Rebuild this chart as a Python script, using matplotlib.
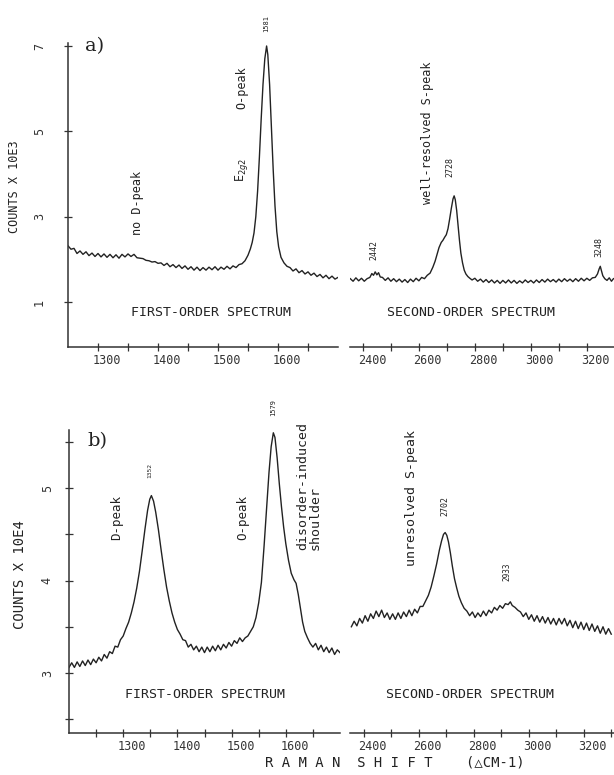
import matplotlib
matplotlib.use('Agg')
import matplotlib.pyplot as plt
import matplotlib.transforms as mtransforms

plt.rcParams['font.family'] = ['DejaVu Sans Mono', 'DejaVu Sans']

# ---- a) first-order spectrum (counts x 10E3)
top1_x = [1250, 1255, 1260, 1265, 1270, 1275, 1280, 1285, 1290, 1295,
          1300, 1305, 1310, 1315, 1320, 1325, 1330, 1335, 1340, 1345,
          1350, 1355, 1360, 1365, 1370, 1375, 1380, 1385, 1390, 1395,
          1400, 1405, 1410, 1415, 1420, 1425, 1430, 1435, 1440, 1445,
          1450, 1455, 1460, 1465, 1470, 1475, 1480, 1485, 1490, 1495,
          1500, 1505, 1510, 1515, 1520, 1525, 1530, 1535, 1540, 1545,
          1550, 1554, 1557, 1560, 1563, 1566, 1569, 1572, 1575, 1578,
          1581, 1583, 1586, 1589, 1592, 1595, 1598, 1601, 1605, 1610,
          1615, 1620, 1625, 1630, 1635, 1640, 1645, 1650, 1655, 1660,
          1665, 1670, 1675, 1680, 1685, 1690, 1695, 1700]
top1_y = [2.32, 2.24, 2.26, 2.14, 2.20, 2.12, 2.18, 2.09, 2.15, 2.07,
          2.14, 2.06, 2.13, 2.05, 2.12, 2.04, 2.11, 2.03, 2.12, 2.06,
          2.13, 2.07, 2.12, 2.04, 2.03, 2.02, 1.98, 1.97, 1.94, 1.95,
          1.91, 1.92, 1.86, 1.91, 1.83, 1.88, 1.81, 1.87, 1.79, 1.85,
          1.77, 1.83, 1.75, 1.82, 1.74, 1.81, 1.75, 1.82, 1.76, 1.83,
          1.75, 1.82, 1.77, 1.84, 1.78, 1.85, 1.81, 1.88, 1.90, 1.97,
          2.10, 2.25, 2.40, 2.62, 3.00, 3.60, 4.40, 5.30, 6.10, 6.70,
          7.00, 6.80, 6.10, 5.10, 4.10, 3.25, 2.65, 2.30, 2.05, 1.92,
          1.84, 1.81, 1.73, 1.78, 1.69, 1.74, 1.66, 1.71, 1.63, 1.68,
          1.60, 1.65, 1.57, 1.63, 1.55, 1.61, 1.54, 1.58]

# ---- a) second-order spectrum
top2_x = [2355, 2365, 2375, 2385, 2395, 2405, 2415, 2425, 2432, 2438,
          2444, 2450, 2456, 2462, 2470, 2480, 2490, 2500, 2510, 2520,
          2530, 2540, 2550, 2560, 2570, 2580, 2590, 2600, 2610, 2620,
          2630, 2640, 2650, 2658, 2665, 2672, 2680, 2686, 2692, 2698,
          2704, 2710, 2716, 2722, 2726, 2730, 2735, 2740, 2745, 2750,
          2756, 2762, 2768, 2775, 2782, 2790, 2800, 2810, 2820, 2830,
          2840, 2850, 2860, 2870, 2880, 2890, 2900, 2910, 2920, 2930,
          2940, 2950, 2960, 2970, 2980, 2990, 3000, 3010, 3020, 3030,
          3040, 3050, 3060, 3070, 3080, 3090, 3100, 3110, 3120, 3130,
          3140, 3150, 3160, 3170, 3180, 3190, 3200, 3210, 3220, 3230,
          3238, 3244, 3248, 3252, 3257, 3264, 3272, 3280, 3288, 3295]
top2_y = [1.55, 1.49, 1.57, 1.50, 1.56, 1.49, 1.55, 1.58, 1.67, 1.63,
          1.71, 1.64, 1.69, 1.59, 1.58, 1.51, 1.57, 1.49, 1.55, 1.48,
          1.54, 1.47, 1.53, 1.46, 1.54, 1.48, 1.56, 1.50, 1.58, 1.55,
          1.63, 1.68, 1.82, 1.96, 2.12, 2.28, 2.40, 2.45, 2.52, 2.58,
          2.72, 2.95, 3.20, 3.42, 3.49, 3.40, 3.15, 2.80, 2.45, 2.15,
          1.92, 1.75, 1.66, 1.60, 1.56, 1.52, 1.56, 1.49, 1.54, 1.47,
          1.53, 1.46, 1.52, 1.45, 1.51, 1.44, 1.51, 1.45, 1.52, 1.45,
          1.51, 1.44, 1.50, 1.45, 1.52, 1.46, 1.51, 1.45, 1.52, 1.46,
          1.53, 1.47, 1.54, 1.48, 1.53, 1.47, 1.54, 1.48, 1.55, 1.49,
          1.54, 1.48, 1.55, 1.49, 1.56, 1.50, 1.56, 1.51, 1.57, 1.58,
          1.66, 1.78, 1.84, 1.74, 1.62, 1.55, 1.51, 1.57, 1.49, 1.55]

# ---- b) first-order spectrum (counts x 10E4)
bot1_x = [1200, 1205, 1210, 1215, 1220, 1225, 1230, 1235, 1240, 1245,
          1250, 1255, 1260, 1265, 1270, 1275, 1280, 1285, 1290, 1295,
          1300, 1305, 1310, 1315, 1320, 1325, 1330, 1335, 1340, 1345,
          1349, 1352, 1356, 1360, 1365, 1370, 1375, 1380, 1385, 1390,
          1395, 1400, 1405, 1410, 1415, 1420, 1425, 1430, 1435, 1440,
          1445, 1450, 1455, 1460, 1465, 1470, 1475, 1480, 1485, 1490,
          1495, 1500, 1505, 1510, 1515, 1520, 1525, 1530, 1535, 1540,
          1545, 1550, 1555, 1560, 1565, 1569, 1573, 1577, 1580, 1584,
          1588, 1592, 1596, 1600, 1605, 1610, 1615, 1619, 1623, 1627,
          1631, 1635, 1640, 1645, 1650, 1655, 1660, 1665, 1670, 1675,
          1680, 1685, 1690, 1695, 1700]
bot1_y = [3.06, 3.11, 3.06, 3.12, 3.07, 3.13, 3.08, 3.14, 3.09, 3.15,
          3.11, 3.17, 3.13, 3.20, 3.16, 3.23, 3.21, 3.29, 3.28, 3.36,
          3.40, 3.48, 3.55, 3.65, 3.77, 3.92, 4.10, 4.32, 4.55, 4.76,
          4.88, 4.92, 4.86, 4.74, 4.55, 4.33, 4.12, 3.93, 3.78, 3.65,
          3.55, 3.47, 3.42, 3.36, 3.35, 3.28, 3.31, 3.25, 3.29, 3.23,
          3.28, 3.22, 3.28, 3.23, 3.29, 3.24, 3.30, 3.25, 3.31, 3.27,
          3.33, 3.29, 3.35, 3.32, 3.38, 3.34, 3.38, 3.40, 3.45, 3.50,
          3.60, 3.76, 3.98, 4.38, 4.82, 5.17, 5.45, 5.60, 5.55, 5.33,
          5.05, 4.80, 4.58, 4.40, 4.22, 4.08, 4.01, 3.97, 3.85, 3.70,
          3.55, 3.45, 3.38, 3.32, 3.28, 3.32, 3.25, 3.30, 3.23, 3.28,
          3.22, 3.27, 3.20, 3.25, 3.22]

# ---- b) second-order spectrum
bot2_x = [2355, 2365, 2375, 2385, 2395, 2405, 2415, 2425, 2435, 2445,
          2455, 2465, 2475, 2485, 2495, 2505, 2515, 2525, 2535, 2545,
          2555, 2565, 2575, 2585, 2595, 2605, 2615, 2625, 2635, 2645,
          2655, 2665, 2675, 2683, 2690, 2696, 2702, 2708, 2715, 2722,
          2730, 2738, 2746, 2755, 2765, 2775, 2785, 2795, 2805, 2815,
          2825, 2835, 2845, 2855, 2865, 2875, 2885, 2895, 2905, 2915,
          2925, 2933, 2940, 2950, 2960, 2970, 2980, 2990, 3000, 3010,
          3020, 3030, 3040, 3050, 3060, 3070, 3080, 3090, 3100, 3110,
          3120, 3130, 3140, 3150, 3160, 3170, 3180, 3190, 3200, 3210,
          3220, 3230, 3240, 3250, 3260, 3270, 3280, 3290, 3300]
bot2_y = [3.50, 3.56, 3.51, 3.59, 3.54, 3.62, 3.56, 3.64, 3.59, 3.67,
          3.61, 3.68, 3.60, 3.65, 3.58, 3.64, 3.58, 3.65, 3.59, 3.66,
          3.61, 3.68, 3.62, 3.69, 3.65, 3.72, 3.72, 3.78, 3.84, 3.93,
          4.05, 4.18, 4.33, 4.43, 4.50, 4.52, 4.49, 4.42, 4.30, 4.16,
          4.02, 3.92, 3.83, 3.76, 3.70, 3.67, 3.62, 3.66, 3.60, 3.65,
          3.61, 3.67, 3.62, 3.68, 3.65, 3.71, 3.68, 3.73, 3.70, 3.75,
          3.74, 3.77, 3.73, 3.71, 3.68, 3.66, 3.61, 3.65, 3.58, 3.63,
          3.56, 3.62, 3.55, 3.61, 3.54, 3.60, 3.53, 3.59, 3.52, 3.59,
          3.53, 3.59, 3.51, 3.57, 3.49, 3.56, 3.48, 3.55, 3.47, 3.54,
          3.46, 3.53, 3.45, 3.51, 3.43, 3.50, 3.42, 3.48, 3.42]

W, H = 614, 775
INK = '#222222'
fig = plt.figure(figsize=(W / 100, H / 100), dpi=100, facecolor='w')


def add_ax(x0, y0, x1, y1):
    # axes box given in pixels from the top-left corner
    return fig.add_axes([x0 / W, 1 - y1 / H, (x1 - x0) / W, (y1 - y0) / H])


def ptext(px, py, s, **kw):
    kw.setdefault('ha', 'center')
    kw.setdefault('va', 'center')
    kw.setdefault('color', INK)
    fig.text(px / W, 1 - py / H, s, **kw)


def style(ax, left_spine, xmaj, xmin, ymaj=None, ymin=None, ypad=10):
    for s in ['top', 'right']:
        ax.spines[s].set_visible(False)
    ax.spines['left'].set_visible(left_spine)
    for s in ['left', 'bottom']:
        ax.spines[s].set_color('#333333')
        ax.spines[s].set_linewidth(1.1)
    ax.set_xticks(xmaj)
    ax.set_xticks(xmin, minor=True)
    ax.tick_params(axis='both', which='both', direction='inout', length=6,
                   width=0.9, colors='#333333', labelsize=8.5)
    ax.tick_params(axis='x', pad=2)
    if left_spine:
        ax.set_yticks(ymaj)
        ax.set_yticks(ymin, minor=True)
        ax.tick_params(axis='y', labelrotation=90, pad=ypad)
        for lab in ax.get_yticklabels():
            lab.set_va('center')
    else:
        ax.set_yticks([])
    # plotter put the numbers a little right of their tick marks
    off = mtransforms.ScaledTranslation(0.09, 0, fig.dpi_scale_trans)
    for lab in ax.get_xticklabels():
        lab.set_transform(lab.get_transform() + off)
    ax.patch.set_alpha(0)


# ---------------- panel a)
ax1 = add_ax(68, 43, 338, 347)
ax1.plot(top1_x, top1_y, color=INK, lw=1.0)
ax1.set_xlim(1250, 1700)
ax1.set_ylim(-0.05, 7.07)
style(ax1, True, [1300, 1400, 1500, 1600], [1350, 1450, 1550, 1650],
      [1, 3, 5, 7], [], ypad=13)

ax2 = add_ax(350, 43, 614, 347)
ax2.plot(top2_x, top2_y, color=INK, lw=1.0)
ax2.set_xlim(2354, 3297)
ax2.set_ylim(-0.05, 7.07)
style(ax2, False, [2400, 2600, 2800, 3000, 3200], [2500, 2700, 2900, 3100])

ptext(95, 46, 'a)', family='DejaVu Serif', fontsize=14)
ptext(15, 187, 'COUNTS X 10E3', rotation=90, fontsize=8.5)
ptext(138, 203, 'no D-peak', rotation=90, fontsize=8.5)
ptext(242, 170, r'E$_{2g2}$', rotation=90, fontsize=8.5)
ptext(242, 88, 'O-peak', rotation=90, fontsize=8.5)
ptext(266, 24, '1581', rotation=90, fontsize=5)
ptext(211, 313, 'FIRST-ORDER SPECTRUM', fontsize=9.5)
ptext(428, 133, 'well-resolved S-peak', rotation=90, fontsize=8.5)
ptext(450, 167, '2728', rotation=90, fontsize=6)
ptext(374, 250, '2442', rotation=90, fontsize=6)
ptext(599, 247, '3248', rotation=90, fontsize=6)
ptext(471, 312, 'SECOND-ORDER SPECTRUM', fontsize=9.5)

# ---------------- panel b)
ax3 = add_ax(69, 430, 340, 733)
ax3.plot(bot1_x, bot1_y, color=INK, lw=1.0)
ax3.set_xlim(1200, 1700)
ax3.set_ylim(2.35, 5.63)
style(ax3, True, [1300, 1400, 1500, 1600], [1250, 1350, 1450, 1550, 1650],
      [3, 4, 5], [2.5, 3.5, 4.5, 5.5], ypad=8)

ax4 = add_ax(350, 430, 614, 733)
ax4.plot(bot2_x, bot2_y, color=INK, lw=1.0)
ax4.set_xlim(2350, 3310)
ax4.set_ylim(2.35, 5.63)
style(ax4, False, [2400, 2600, 2800, 3000, 3200], [2500, 2700, 2900, 3100, 3300])

ptext(97, 441, 'b)', family='DejaVu Serif', fontsize=14)
ptext(20, 575, 'COUNTS X 10E4', rotation=90, fontsize=10)
ptext(117, 518, 'D-peak', rotation=90, fontsize=9)
ptext(150, 470, '1352', rotation=90, fontsize=4.5)
ptext(243, 518, 'O-peak', rotation=90, fontsize=9)
ptext(273, 407, '1579', rotation=90, fontsize=5)
ptext(309, 550, 'disorder-induced\nshoulder', rotation=90, fontsize=9.5,
      va='bottom', multialignment='left', linespacing=1.0)
ptext(412, 498, 'unresolved S-peak', rotation=90, fontsize=9.5)
ptext(445, 506, '2702', rotation=90, fontsize=6)
ptext(507, 572, '2933', rotation=90, fontsize=5.5)
ptext(205, 695, 'FIRST-ORDER SPECTRUM', fontsize=9.5)
ptext(470, 695, 'SECOND-ORDER SPECTRUM', fontsize=9.5)
ptext(395, 763, 'R A M A N  S H I F T    (\u25b3CM-1)', fontsize=10)

plt.savefig('out.png', dpi=100)
plt.close()
